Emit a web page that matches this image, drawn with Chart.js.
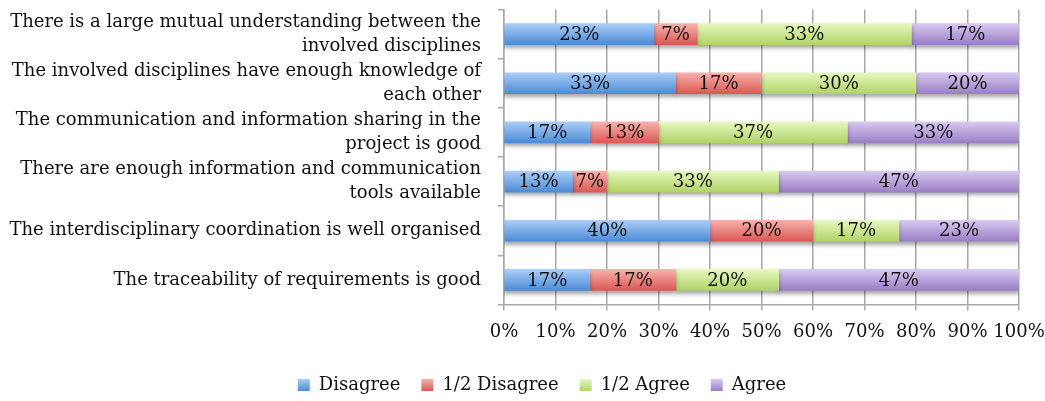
<!DOCTYPE html>
<html>
<head>
<meta charset="utf-8">
<script src="https://cdn.jsdelivr.net/npm/chart.js@4.4.1/dist/chart.umd.min.js"></script>
<style>
  html, body { margin: 0; padding: 0; background: #fff; }
</style>
</head>
<body>
<canvas id="chart" width="1045" height="401"></canvas>
<script>
// statements, top to bottom
var categories = [
  ["There is a large mutual understanding between the", "involved disciplines"],
  ["The involved disciplines have enough knowledge of", "each other"],
  ["The communication and information sharing in the", "project is good"],
  ["There are enough information and communication", "tools available"],
  "The interdisciplinary coordination is well organised",
  "The traceability of requirements is good"
];
var seriesNames = ["Disagree", "1/2 Disagree", "1/2 Agree", "Agree"];

// answers in % (the first row does not add up to 100, bars are stretched to 100%)
var disagree     = [23.3, 33.3, 16.7, 13.3, 40.0, 16.7];
var halfDisagree = [6.7, 16.7, 13.3, 6.7, 20.0, 16.7];
var halfAgree    = [33.3, 30.0, 36.7, 33.3, 16.7, 20.0];
var agree        = [16.7, 20.0, 33.3, 46.7, 23.3, 46.7];

var xTickLabels = ["0%", "10%", "20%", "30%", "40%", "50%", "60%", "70%", "80%", "90%", "100%"];

var series = [disagree, halfDisagree, halfAgree, agree];
var rowTotals = categories.map(function (c, i) {
  return series.reduce(function (s, arr) { return s + arr[i]; }, 0);
});

// top / bottom colour of the bar gradient
var gradStops = [
  ["#aacdf7", "#4d8bd5"],
  ["#f8b1ac", "#da5853"],
  ["#e6f8c0", "#b1d366"],
  ["#d8c9f1", "#9a7fc4"]
];
var FONT = "'DejaVu Serif', serif";
var FS = 18;
var BAR_H = 21;
var LEG_PAD = 21;
var GRID = "#a8a8a8";

function barFill(k) {
  return function (ctx) {
    var chart = ctx.chart, y = chart.scales && chart.scales.y;
    if (!y || ctx.dataIndex === undefined) return gradStops[k][1];
    var c = y.getPixelForValue(ctx.dataIndex);
    if (!isFinite(c)) return gradStops[k][1];
    var g = chart.ctx.createLinearGradient(0, c - BAR_H / 2, 0, c + BAR_H / 2);
    g.addColorStop(0, gradStops[k][0]);
    g.addColorStop(1, gradStops[k][1]);
    return g;
  };
}

// shadow under the bars + value labels, and nudge the legend a bit
var barDecor = {
  id: "barDecor",
  afterLayout: function (chart) {
    var lg = chart.legend;
    if (lg) {
      lg.top += 3;
      lg.bottom += 3;
      lg.left += 32.5;
      lg.right += 32.5;
    }
  },
  beforeDatasetsDraw: function (chart) {
    var c = chart.ctx;
    c.save();
    c.shadowColor = "rgba(0,0,0,0.35)";
    c.shadowBlur = 4;
    c.shadowOffsetY = 3;
  },
  afterDatasetsDraw: function (chart) {
    var c = chart.ctx;
    c.restore();
    c.save();
    c.font = FS + "px " + FONT;
    c.fillStyle = "#111";
    c.textAlign = "center";
    c.textBaseline = "middle";
    chart.data.datasets.forEach(function (ds, k) {
      chart.getDatasetMeta(k).data.forEach(function (bar, i) {
        var p = bar.getProps(["x", "y", "base"], true);
        c.fillText(Math.round(series[k][i]) + "%", (p.x + p.base) / 2, p.y + 1);
      });
    });
    c.restore();
  }
};

var datasets = series.map(function (arr, k) {
  return {
    label: seriesNames[k],
    data: arr.map(function (v, i) { return v / rowTotals[i] * 100; }),
    backgroundColor: barFill(k),
    borderWidth: 0,
    barThickness: BAR_H
  };
});

new Chart(document.getElementById("chart"), {
  type: "bar",
  data: { labels: categories, datasets: datasets },
  plugins: [barDecor],
  options: {
    indexAxis: "y",
    responsive: false,
    animation: false,
    layout: { padding: { top: 9.5, left: 0, right: 26, bottom: 0 } },
    plugins: {
      tooltip: { enabled: false },
      legend: {
        position: "bottom",
        labels: {
          boxWidth: 12,
          boxHeight: 12,
          padding: LEG_PAD,
          color: "#111",
          font: { family: FONT, size: FS },
          generateLabels: function (chart) {
            var items = Chart.defaults.plugins.legend.labels.generateLabels(chart);
            var lg = chart.legend;
            items.forEach(function (it, k) {
              if (lg && isFinite(lg.top)) {
                var y0 = lg.top + LEG_PAD + (FS - 12) / 2;
                var g = chart.ctx.createLinearGradient(0, y0, 0, y0 + 12);
                g.addColorStop(0, gradStops[k][0]);
                g.addColorStop(1, gradStops[k][1]);
                it.fillStyle = g;
              } else {
                it.fillStyle = gradStops[k][1];
              }
              it.lineWidth = 0;
              it.strokeStyle = "rgba(0,0,0,0)";
            });
            return items;
          }
        }
      }
    },
    scales: {
      x: {
        stacked: true,
        min: 0,
        max: 100,
        ticks: {
          stepSize: 10,
          padding: 11.5,
          maxRotation: 0,
          minRotation: 0,
          autoSkip: false,
          color: "#111",
          font: { family: FONT, size: FS },
          callback: function (v) { return xTickLabels[Math.round(v / 10)]; }
        },
        grid: { color: GRID, lineWidth: 1.5, tickLength: 6 },
        border: { color: GRID, width: 1.5 },
        afterFit: function (s) {
          s.height = 47.5;
          s.paddingRight = 0;
        }
      },
      y: {
        stacked: true,
        ticks: {
          padding: 17,
          autoSkip: false,
          color: "#111",
          font: { family: FONT, size: FS, lineHeight: 1.36 }
        },
        grid: { drawOnChartArea: false, color: GRID, lineWidth: 1.5, tickLength: 6 },
        border: { color: GRID, width: 1.5 },
        afterFit: function (s) {
          s.width = 504;
          s.paddingTop = 0;
          s.paddingBottom = 0;
        }
      }
    }
  }
});
</script>
</body>
</html>
